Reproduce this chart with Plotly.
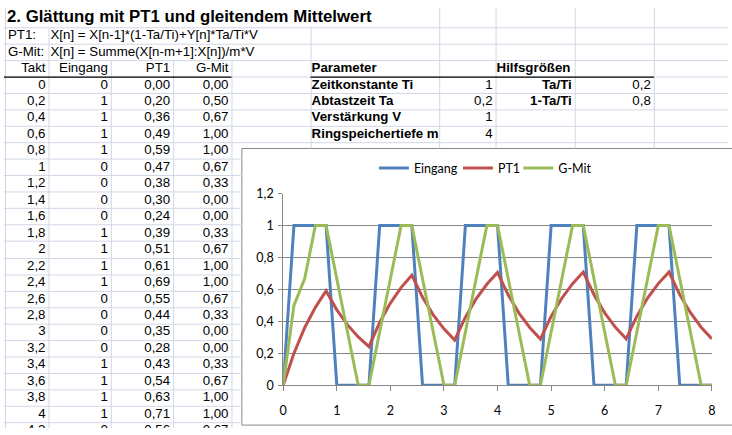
import plotly.graph_objects as go

# ---------------- data ----------------
takt = [0, 0.2, 0.4, 0.6, 0.8, 1, 1.2, 1.4, 1.6, 1.8, 2, 2.2, 2.4, 2.6, 2.8, 3, 3.2, 3.4, 3.6, 3.8,
        4, 4.2, 4.4, 4.6, 4.8, 5, 5.2, 5.4, 5.6, 5.8, 6, 6.2, 6.4, 6.6, 6.8, 7, 7.2, 7.4, 7.6, 7.8, 8]
eingang = [0, 1, 1, 1, 1, 0, 0, 0, 0, 1, 1, 1, 1, 0, 0, 0, 0, 1, 1, 1,
           1, 0, 0, 0, 0, 1, 1, 1, 1, 0, 0, 0, 0, 1, 1, 1, 1, 0, 0, 0, 0]
pt1 = [0, 0.2, 0.36, 0.488, 0.5904, 0.4723, 0.3779, 0.3023, 0.2418, 0.3935, 0.5148, 0.6118, 0.6895,
       0.5516, 0.4412, 0.3530, 0.2824, 0.4259, 0.5407, 0.6326, 0.7061, 0.5649, 0.4519, 0.3615,
       0.2892, 0.4314, 0.5451, 0.6361, 0.7089, 0.5671, 0.4537, 0.3629, 0.2903, 0.4323, 0.5458,
       0.6367, 0.7093, 0.5675, 0.4540, 0.3632, 0.2905]
gmit = [0, 0.5, 0.6667, 1, 1, 0.6667, 0.3333, 0, 0, 0.3333, 0.6667, 1, 1, 0.6667, 0.3333, 0, 0,
        0.3333, 0.6667, 1, 1, 0.6667, 0.3333, 0, 0, 0.3333, 0.6667, 1, 1, 0.6667, 0.3333, 0, 0,
        0.3333, 0.6667, 1, 1, 0.6667, 0.3333, 0, 0]
series_names = ["Eingang", "PT1", "G-Mit"]

title = "2. Glättung mit PT1 und gleitendem Mittelwert"
formula_labels = ["PT1:", "G-Mit:"]
formulas = ["X[n] = X[n-1]*(1-Ta/Ti)+Y[n]*Ta/Ti*V", "X[n] = Summe(X[n-m+1]:X[n])/m*V"]
table_headers = ["Takt", "Eingang", "PT1", "G-Mit"]
param_header = "Parameter"
param_labels = ["Zeitkonstante Ti", "Abtastzeit Ta", "Verstärkung V", "Ringspeichertiefe m"]
param_values = [1, 0.2, 1, 4]
helper_header = "Hilfsgrößen"
helper_labels = ["Ta/Ti", "1-Ta/Ti"]
helper_values = [0.2, 0.8]
table_rows_shown = 22

y_ticks = [0, 0.2, 0.4, 0.6, 0.8, 1, 1.2]
y_ticklabels = ["0", "0,2", "0,4", "0,6", "0,8", "1", "1,2"]
x_ticks = [0, 1, 2, 3, 4, 5, 6, 7, 8]
x_ticklabels = ["0", "1", "2", "3", "4", "5", "6", "7", "8"]

# ---------------- layout geometry ----------------
W, H = 732, 435
SHEET_FONT = "Liberation Sans"
CHART_FONT = "Lato"
GRID = "#D0D7E5"
FS = 13.3
col_edges = [1, 45, 108, 171, 230, 310, 440, 497, 577, 657]
TITLE_H = 20.3
ROW_H = 17.05
chart_left, chart_top, chart_bottom = 240.5, 145.5, 432.0
plot_x0, plot_x1 = 282.3, 715.7
plot_y0, plot_y1 = 192.3, 390.7   # top, bottom in px
legend_text_x = [414, 499, 560]
legend_y = 166


def row_top(k):
    return 0 if k == 0 else TITLE_H + ROW_H * (k - 1)


def row_mid(k):
    return (row_top(k) + row_top(k + 1)) / 2


def gen(v):
    return f"{v:g}".replace(".", ",")


def dec2(v):
    return f"{v:.2f}".replace(".", ",")


fig = go.Figure()

# ---- spreadsheet grid lines ----
gx, gy = [], []
k = 1
while row_top(k) < H + 2:
    y = int(row_top(k)) + 0.5
    x_end = W if y < chart_top else chart_left
    gx += [0, x_end, None]
    gy += [y, y, None]
    k += 1
for xe in col_edges:
    if xe in (45, 310):
        ys = row_top(1)
    elif xe in (108, 171, 230):
        ys = row_top(3)
    else:
        ys = 0
    ye = chart_top if xe > chart_left else H
    gx += [xe + 0.5, xe + 0.5, None]
    gy += [ys, ye, None]
fig.add_trace(go.Scatter(x=gx, y=gy, mode="lines", line=dict(color=GRID, width=1),
                         hoverinfo="skip", showlegend=False, xaxis="x", yaxis="y"))

# header borders
hb = int(row_top(4)) + 0.5
fig.add_trace(go.Scatter(x=[0, 230, None, 310, 657], y=[hb, hb, None, hb, hb], mode="lines",
                         line=dict(color="black", width=1.3), hoverinfo="skip",
                         showlegend=False, xaxis="x", yaxis="y"))


def text_trace(xs, ys, texts, pos, size=FS, bold=False):
    if bold:
        texts = [f"<b>{t}</b>" for t in texts]
    fig.add_trace(go.Scatter(x=xs, y=ys, text=texts, mode="text", textposition=pos,
                             textfont=dict(family=SHEET_FONT, size=size, color="black"),
                             hoverinfo="skip", showlegend=False, xaxis="x", yaxis="y"))


PAD = 3
text_trace([3], [row_mid(0)], [title], "middle right", size=16.8, bold=True)
text_trace([4, 4, 47, 47], [row_mid(1), row_mid(2), row_mid(1), row_mid(2)],
           formula_labels + formulas, "middle right")
bl_x = [col_edges[5] + 1, col_edges[7] + 1] + [col_edges[5] + 1] * len(param_labels)
bl_y = [row_mid(3), row_mid(3)] + [row_mid(4 + i) for i in range(len(param_labels))]
text_trace(bl_x, bl_y, [param_header, helper_header] + param_labels, "middle right", bold=True)

rx, ry, rt = [], [], []
for j, h in enumerate(table_headers):
    rx.append(col_edges[j + 1] - PAD); ry.append(row_mid(3)); rt.append(h)
for i in range(table_rows_shown):
    cells = [gen(takt[i]), gen(eingang[i]), dec2(pt1[i]), dec2(gmit[i])]
    for j, c in enumerate(cells):
        rx.append(col_edges[j + 1] - PAD); ry.append(row_mid(4 + i)); rt.append(c)
for i, v in enumerate(param_values):
    rx.append(col_edges[7] - PAD); ry.append(row_mid(4 + i)); rt.append(gen(v))
for i, v in enumerate(helper_values):
    rx.append(col_edges[9] - PAD); ry.append(row_mid(4 + i)); rt.append(gen(v))
text_trace(rx, ry, rt, "middle left")
text_trace([col_edges[8] - PAD] * len(helper_labels), [row_mid(4 + i) for i in range(len(helper_labels))],
           helper_labels, "middle left", bold=True)

# ---- chart ----
colors = ["#4F81BD", "#C0504D", "#9BBB59"]
legend_ids = ["legend", "legend2", "legend3"]
for name, ys, c, lg in zip(series_names, [eingang, pt1, gmit], colors, legend_ids):
    fig.add_trace(go.Scatter(x=takt, y=ys, name=name, mode="lines", legend=lg,
                             line=dict(color=c, width=3), xaxis="x2", yaxis="y2",
                             hoverinfo="skip"))

legend_common = dict(orientation="h", xanchor="left", yanchor="middle",
                     font=dict(family=CHART_FONT, size=12.5, color="black"),
                     bgcolor="rgba(0,0,0,0)", borderwidth=0,
                     itemclick=False, itemdoubleclick=False)
legends = {}
for lg, tx in zip(legend_ids, legend_text_x):
    legends[lg] = dict(legend_common, x=(tx - 40) / W, y=1 - legend_y / H)

fig.update_layout(
    width=W, height=H, margin=dict(l=0, r=0, t=0, b=0),
    paper_bgcolor="white", plot_bgcolor="rgba(0,0,0,0)",
    showlegend=True,
    xaxis=dict(domain=[0, 1], range=[0, W], visible=False, fixedrange=True),
    yaxis=dict(domain=[0, 1], range=[H, 0], visible=False, fixedrange=True),
    xaxis2=dict(domain=[plot_x0 / W, plot_x1 / W], range=[0, 8], anchor="y2",
                tickvals=x_ticks, ticktext=x_ticklabels, showgrid=False, zeroline=False,
                showline=True, linecolor="#868686", linewidth=1, ticks="outside", ticklen=5,
                tickcolor="#868686", tickfont=dict(family=CHART_FONT, size=12.5, color="black"),
                ticklabelstandoff=9, fixedrange=True),
    yaxis2=dict(domain=[1 - plot_y1 / H, 1 - plot_y0 / H], range=[0, 1.2], anchor="x2",
                tickvals=y_ticks, ticktext=y_ticklabels, showgrid=True, gridcolor="#868686",
                gridwidth=1, zeroline=False, showline=True, linecolor="#868686", linewidth=1,
                ticks="outside", ticklen=4, tickcolor="#868686", ticklabelstandoff=2,
                tickfont=dict(family=CHART_FONT, size=12.5, color="black"), fixedrange=True),
    shapes=[dict(type="rect", xref="paper", yref="paper", x0=chart_left / W, x1=1.05,
                 y0=1 - chart_bottom / H, y1=1 - chart_top / H,
                 line=dict(color="#868686", width=1), fillcolor="rgba(0,0,0,0)", layer="below")],
    **legends,
)

fig.write_html("out.html", config={"displayModeBar": False},
               post_script="document.body.style.margin='0px';document.body.style.overflow='hidden';")
